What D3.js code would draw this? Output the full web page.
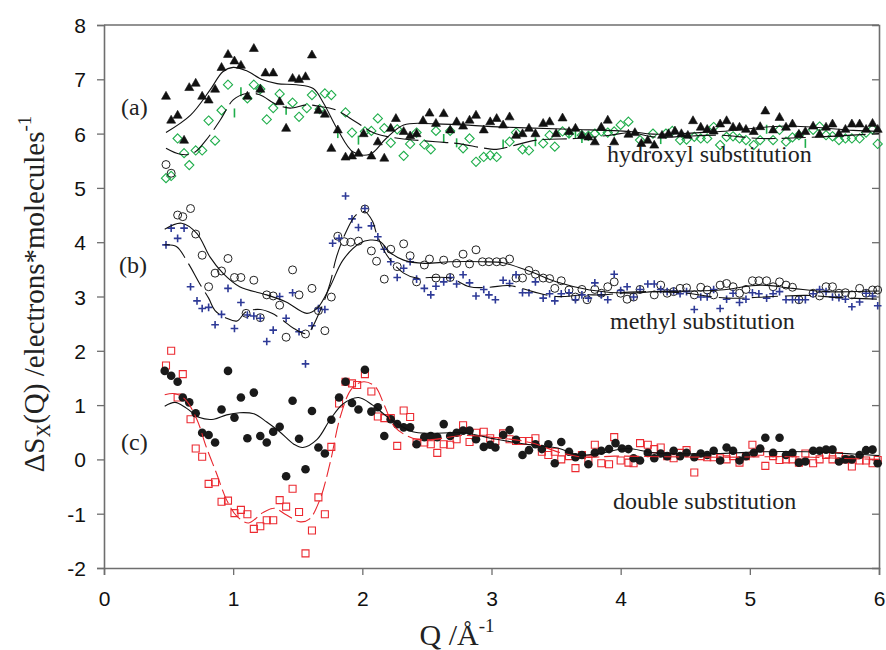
<!DOCTYPE html>
<html>
<head>
<meta charset="utf-8">
<script src="https://cdn.jsdelivr.net/npm/d3@7"></script>
<style>
  body { margin: 0; background: #fff; }
  svg { display: block; }
  .tick text { font-family: "Liberation Sans", Arial, sans-serif; font-size: 21px; fill: #111; }
  .serif { font-family: "Liberation Serif", "Times New Roman", serif; fill: #222; }
</style>
</head>
<body>
<div id="chart"></div>
<script>
const WIDTH = 886, HEIGHT = 650;

// x ticks / y ticks
const xTicks = [0, 1, 2, 3, 4, 5, 6];
const yTicks = [-2, -1, 0, 1, 2, 3, 4, 5, 6, 7, 8];

// (a) hydroxyl substitution: black triangles + solid fit
const triA = [[0.48,6.69],[0.52,6.25],[0.57,6.34],[0.62,5.88],[0.66,6.85],[0.71,6.93],[0.76,6.69],[0.81,6.62],[0.86,6.82],[0.91,7.22],[0.96,7.46],[1.01,7.34],[1.06,7.26],[1.11,6.69],[1.16,7.57],[1.21,6.82],[1.25,7.12],[1.31,7.12],[1.36,6.59],[1.41,6.10],[1.46,7.02],[1.51,7.0],[1.56,7.05],[1.61,7.45],[1.66,6.43],[1.71,6.36],[1.76,5.73],[1.81,6.07],[1.87,5.57],[1.92,5.59],[1.97,5.64],[2.01,6.0],[2.07,5.59],[2.12,5.85],[2.17,5.55],[2.22,6.10],[2.26,6.28],[2.32,6.04],[2.37,5.96],[2.42,6.0],[2.47,6.24],[2.52,6.38],[2.57,6.19],[2.63,6.37],[2.68,6.07],[2.73,6.22],[2.78,6.14],[2.83,6.25],[2.88,6.34],[2.94,6.07],[2.99,6.22],[3.04,6.28],[3.09,6.16],[3.14,6.31],[3.19,5.97],[3.24,6.0],[3.29,6.10],[3.34,6.0],[3.40,6.19],[3.45,6.22],[3.50,6.0],[3.55,6.29],[3.60,6.04],[3.65,6.10],[3.70,5.97],[3.75,5.94],[3.80,5.85],[3.85,6.12],[3.90,6.25],[3.95,5.85],[4.06,5.99],[4.11,6.02],[4.16,5.82],[4.21,5.88],[4.26,5.79],[4.32,5.97],[4.37,6.0],[4.42,6.05],[4.47,6.0],[4.52,5.97],[4.56,6.24],[4.62,6.12],[4.67,6.08],[4.72,6.05],[4.77,6.18],[4.82,6.24],[4.87,6.12],[4.92,6.12],[4.97,6.08],[5.03,6.04],[5.08,6.13],[5.12,6.42],[5.18,6.07],[5.23,6.30],[5.28,6.12],[5.33,6.18],[5.38,5.99],[5.43,6.04],[5.49,6.14],[5.54,5.99],[5.59,6.12],[5.64,6.18],[5.69,6.0],[5.74,6.08],[5.79,6.18],[5.85,6.18],[5.90,6.08],[5.95,6.19],[5.99,6.08]];
const fitTriA = [[0.48,6.02],[0.67,6.34],[0.82,6.8],[0.92,7.14],[1.0,7.22],[1.10,7.16],[1.23,6.99],[1.34,6.92],[1.49,6.9],[1.62,6.83],[1.70,6.56],[1.81,6.07],[1.93,5.66],[2.06,5.62],[2.18,5.9],[2.32,6.16],[2.57,6.18],[3.09,6.12],[3.6,6.08],[4.07,6.04],[4.25,5.99],[4.77,6.04],[5.28,6.14],[5.8,6.06],[6.0,6.04]];

// (a) green diamonds + dashed fit, green bars
const diaA = [[0.48,5.18],[0.52,5.22],[0.57,5.91],[0.62,5.64],[0.66,5.42],[0.71,5.69],[0.76,5.69],[0.81,6.24],[0.86,5.87],[0.91,6.43],[0.96,6.9],[1.11,6.65],[1.16,6.9],[1.21,6.82],[1.26,6.26],[1.31,6.47],[1.36,6.73],[1.46,6.57],[1.51,6.31],[1.57,6.47],[1.61,6.71],[1.67,6.45],[1.71,6.74],[1.76,6.71],[1.87,6.39],[1.92,6.02],[2.02,6.04],[2.07,6.05],[2.12,6.28],[2.17,6.10],[2.22,5.83],[2.27,6.08],[2.32,5.59],[2.37,5.81],[2.42,6.02],[2.48,5.80],[2.53,5.71],[2.57,6.05],[2.68,6.05],[2.78,5.73],[2.83,5.91],[2.88,5.48],[2.94,5.57],[2.99,5.60],[3.04,5.57],[3.14,5.85],[3.19,6.02],[3.24,5.71],[3.29,5.69],[3.40,5.82],[3.45,5.97],[3.49,5.76],[3.55,6.04],[3.60,6.0],[3.70,5.97],[3.75,5.96],[3.80,6.0],[3.85,6.04],[3.90,6.02],[3.95,6.04],[4.0,6.16],[4.06,6.22],[4.15,5.88],[4.25,6.0],[4.35,6.0],[4.40,6.05],[4.46,5.88],[4.51,5.89],[4.57,5.94],[4.62,5.91],[4.67,5.91],[4.72,6.12],[4.77,5.79],[4.82,5.94],[4.87,5.95],[4.92,5.91],[4.97,5.88],[5.03,5.79],[5.08,5.88],[5.18,5.88],[5.23,6.07],[5.28,5.85],[5.33,5.93],[5.38,5.97],[5.49,6.07],[5.54,6.13],[5.59,5.97],[5.64,5.95],[5.69,5.88],[5.74,5.91],[5.79,5.91],[5.85,5.91],[5.90,6.02],[5.95,6.08],[5.99,5.81]];
const barA = [[1.01,6.38],[1.06,6.77],[1.41,6.43],[1.81,6.0],[1.97,5.88],[2.63,5.91],[2.73,5.83],[3.09,5.81],[3.34,5.85],[3.60,6.0],[3.65,6.0],[3.70,5.91],[4.31,5.89],[5.13,6.08],[5.43,5.82]];
const fitDiaA = [[0.48,5.73],[0.59,5.62],[0.69,5.64],[0.79,5.88],[0.90,6.25],[1.0,6.62],[1.10,6.74],[1.2,6.72],[1.34,6.53],[1.44,6.47],[1.57,6.53],[1.67,6.5],[1.78,6.45],[1.96,6.2],[2.1,6.0],[2.29,5.91],[2.57,5.85],[2.73,5.82],[3.04,5.71],[3.14,5.76],[3.35,5.88],[3.65,5.91],[3.92,5.97],[4.08,6.02],[4.25,5.94],[4.77,5.97],[5.08,5.91],[5.54,5.94],[6.0,6.0]];

// (b) methyl substitution: open circles + solid fit, blue plus + dashed fit
const circB = [[0.48,5.43],[0.52,5.27],[0.57,4.50],[0.61,4.47],[0.67,4.62],[0.71,4.15],[0.76,3.76],[0.81,3.18],[0.86,3.43],[0.91,3.47],[0.96,3.70],[1.01,3.35],[1.06,3.35],[1.10,2.69],[1.16,3.30],[1.21,2.61],[1.26,3.03],[1.31,3.01],[1.36,2.84],[1.41,2.25],[1.46,3.49],[1.51,3.03],[1.56,2.31],[1.61,3.15],[1.66,2.74],[1.71,2.37],[1.76,2.99],[1.81,4.11],[1.86,4.01],[1.91,4.0],[1.97,4.02],[2.02,4.61],[2.07,3.84],[2.11,3.65],[2.17,3.32],[2.22,3.87],[2.27,3.55],[2.32,3.97],[2.37,3.75],[2.42,3.27],[2.48,3.58],[2.52,3.69],[2.57,3.34],[2.63,3.67],[2.68,3.35],[2.73,3.61],[2.78,3.78],[2.83,3.60],[2.88,3.86],[2.93,3.64],[2.98,3.64],[3.04,3.64],[3.09,3.64],[3.14,3.69],[3.19,3.34],[3.24,3.34],[3.29,3.48],[3.34,3.41],[3.40,3.34],[3.45,3.33],[3.49,3.15],[3.54,3.29],[3.60,3.12],[3.65,2.99],[3.70,3.13],[3.74,2.94],[3.80,3.13],[3.85,3.06],[3.90,3.18],[3.95,3.27],[4.00,3.06],[4.05,2.95],[4.10,2.99],[4.15,3.13],[4.26,3.03],[4.31,3.21],[4.36,3.06],[4.41,3.09],[4.46,3.15],[4.51,3.16],[4.57,3.03],[4.62,3.17],[4.67,3.12],[4.72,3.03],[4.77,3.21],[4.82,3.24],[4.87,3.18],[4.92,3.06],[4.97,3.13],[5.02,3.29],[5.07,3.29],[5.13,3.29],[5.18,3.18],[5.23,3.27],[5.28,3.21],[5.33,3.17],[5.38,2.94],[5.49,3.06],[5.54,3.01],[5.59,3.18],[5.64,3.18],[5.69,3.06],[5.74,3.07],[5.79,3.03],[5.85,3.15],[5.90,3.06],[5.95,3.12],[5.99,3.12]];
const fitCircB = [[0.47,4.24],[0.60,4.35],[0.72,4.16],[0.82,3.73],[0.92,3.43],[1.05,3.18],[1.26,3.03],[1.41,2.90],[1.57,2.69],[1.65,2.78],[1.75,3.18],[1.85,3.67],[1.98,3.98],[2.06,4.04],[2.14,4.01],[2.21,3.82],[2.32,3.67],[2.48,3.61],[2.68,3.64],[2.94,3.64],[3.09,3.62],[3.30,3.46],[3.50,3.27],[3.76,3.12],[4.07,3.06],[4.26,3.09],[4.77,3.12],[5.08,3.21],[5.33,3.15],[5.59,3.09],[6.0,3.1]];
const plusB = [[0.48,3.95],[0.52,4.26],[0.57,4.07],[0.62,4.26],[0.67,3.18],[0.72,2.92],[0.76,2.78],[0.81,2.80],[0.86,2.48],[0.91,2.67],[0.96,3.15],[1.01,2.41],[1.06,2.89],[1.11,2.66],[1.16,2.64],[1.21,2.60],[1.26,2.17],[1.31,2.38],[1.36,3.00],[1.41,2.60],[1.46,3.07],[1.51,2.35],[1.56,1.76],[1.61,2.46],[1.66,2.78],[1.71,2.76],[1.77,3.98],[1.82,4.07],[1.87,4.85],[1.92,4.43],[1.97,4.27],[2.02,4.62],[2.07,4.30],[2.12,4.10],[2.17,3.87],[2.22,3.64],[2.27,3.35],[2.32,3.52],[2.37,3.64],[2.42,3.32],[2.48,3.15],[2.53,3.03],[2.57,3.19],[2.63,3.27],[2.68,3.35],[2.73,3.23],[2.78,3.40],[2.83,3.25],[2.88,3.01],[2.94,3.13],[2.98,3.03],[3.03,2.94],[3.09,3.30],[3.14,3.24],[3.19,3.40],[3.24,3.07],[3.29,3.07],[3.34,3.27],[3.40,2.97],[3.45,3.05],[3.49,2.92],[3.54,3.05],[3.60,3.07],[3.65,2.94],[3.70,3.03],[3.75,2.97],[3.80,3.25],[3.85,3.03],[3.90,2.94],[3.95,3.41],[4.00,3.11],[4.05,3.18],[4.10,2.99],[4.15,3.13],[4.21,3.23],[4.26,3.23],[4.31,3.13],[4.36,3.09],[4.41,3.10],[4.46,3.05],[4.51,3.09],[4.57,2.76],[4.62,2.99],[4.67,2.99],[4.72,3.13],[4.77,2.78],[4.82,2.95],[4.87,3.06],[4.92,2.89],[4.97,2.95],[5.02,3.07],[5.07,3.05],[5.13,2.97],[5.18,3.05],[5.23,3.09],[5.28,2.94],[5.33,2.94],[5.38,2.94],[5.43,2.94],[5.49,3.05],[5.54,3.13],[5.59,3.09],[5.64,2.99],[5.69,2.98],[5.74,2.95],[5.79,2.81],[5.85,2.90],[5.90,3.06],[5.95,3.01],[5.99,2.83]];
const fitPlusB = [[0.47,3.95],[0.56,3.92],[0.65,3.62],[0.74,3.24],[0.81,2.97],[0.86,2.74],[0.95,2.60],[1.03,2.55],[1.10,2.72],[1.21,2.76],[1.30,2.69],[1.38,2.57],[1.47,2.41],[1.57,2.32],[1.67,2.72],[1.75,3.24],[1.80,3.73],[1.88,4.22],[1.95,4.50],[2.02,4.56],[2.08,4.38],[2.11,4.16],[2.19,3.76],[2.32,3.43],[2.42,3.34],[2.52,3.35],[2.68,3.34],[2.83,3.18],[2.98,3.17],[3.14,3.20],[3.32,3.09],[3.50,3.0],[3.71,3.03],[3.87,3.03],[4.07,3.08],[4.26,3.09],[4.51,3.06],[4.82,2.97],[5.18,3.0],[5.44,3.02],[5.69,2.98],[6.0,2.95]];

// (c) double substitution: filled circles + solid fit, red squares + red dashed fit
const dotC = [[0.47,1.63],[0.52,1.54],[0.57,1.43],[0.61,1.14],[0.66,1.05],[0.71,0.85],[0.76,0.49],[0.81,0.45],[0.86,0.31],[0.91,0.92],[0.96,1.63],[1.01,0.77],[1.06,1.14],[1.11,0.39],[1.16,1.23],[1.21,0.43],[1.26,0.31],[1.31,0.51],[1.36,0.60],[1.41,-0.31],[1.46,1.08],[1.51,0.38],[1.56,-0.18],[1.61,0.89],[1.66,0.22],[1.71,0.11],[1.76,0.73],[1.82,1.14],[1.87,1.43],[1.92,1.04],[1.97,0.92],[2.02,1.65],[2.07,0.88],[2.12,0.96],[2.17,0.43],[2.22,0.74],[2.27,0.65],[2.32,0.59],[2.37,0.59],[2.42,0.28],[2.48,0.41],[2.53,0.43],[2.58,0.41],[2.63,0.65],[2.68,0.43],[2.73,0.49],[2.78,0.53],[2.83,0.53],[2.88,0.37],[2.94,0.23],[2.99,0.27],[3.03,0.22],[3.09,0.45],[3.14,0.54],[3.19,0.36],[3.24,0.08],[3.29,0.17],[3.34,0.28],[3.39,0.19],[3.44,0.28],[3.49,-0.07],[3.54,0.32],[3.60,0.14],[3.65,0.04],[3.70,0.08],[3.75,-0.09],[3.80,0.12],[3.85,0.16],[3.91,0.19],[3.96,0.30],[4.01,0.20],[4.06,0.19],[4.10,0.02],[4.15,-0.02],[4.21,0.12],[4.26,0.02],[4.31,0.11],[4.36,0.06],[4.41,0.16],[4.46,0.06],[4.51,0.12],[4.57,0.04],[4.62,0.11],[4.67,0.08],[4.72,0.16],[4.77,-0.02],[4.82,0.22],[4.87,0.16],[4.92,-0.02],[4.97,0.06],[5.03,0.12],[5.08,0.20],[5.12,0.40],[5.18,0.12],[5.23,0.40],[5.28,0.08],[5.33,0.12],[5.38,-0.06],[5.43,-0.04],[5.49,0.16],[5.54,0.16],[5.59,0.18],[5.64,0.18],[5.69,-0.04],[5.74,0.0],[5.79,0.0],[5.85,0.08],[5.90,0.17],[5.95,0.18],[5.99,-0.07]];
const fitDotC = [[0.47,0.98],[0.55,1.05],[0.64,0.94],[0.74,0.77],[0.85,0.74],[0.95,0.82],[1.05,0.86],[1.16,0.84],[1.26,0.69],[1.36,0.51],[1.47,0.28],[1.54,0.22],[1.65,0.37],[1.75,0.73],[1.85,1.02],[1.97,1.14],[2.08,1.0],[2.19,0.79],[2.29,0.63],[2.39,0.51],[2.52,0.48],[2.78,0.49],[3.04,0.37],[3.30,0.27],[3.51,0.21],[3.68,0.08],[3.84,0.11],[4.05,0.20],[4.26,0.12],[4.77,0.11],[5.08,0.14],[5.44,0.14],[5.80,0.10],[6.0,0.07]];
const sqC = [[0.48,1.73],[0.52,2.0],[0.57,1.14],[0.61,1.57],[0.67,0.74],[0.71,0.20],[0.76,0.05],[0.81,-0.45],[0.86,-0.42],[0.91,-0.78],[0.96,-0.76],[1.01,-0.99],[1.06,-0.93],[1.11,-1.01],[1.16,-1.28],[1.21,-1.23],[1.26,-1.12],[1.31,-1.12],[1.36,-0.75],[1.41,-0.87],[1.46,-0.54],[1.51,-0.97],[1.56,-1.73],[1.61,-1.31],[1.66,-0.70],[1.71,-1.01],[1.76,0.23],[1.82,1.03],[1.87,1.43],[1.92,1.40],[1.96,1.37],[2.02,1.57],[2.07,1.25],[2.12,0.79],[2.17,0.76],[2.22,0.76],[2.27,0.25],[2.32,0.90],[2.37,0.78],[2.42,0.31],[2.48,0.31],[2.53,0.28],[2.58,0.12],[2.63,0.28],[2.68,0.27],[2.73,0.37],[2.78,0.63],[2.83,0.32],[2.88,0.49],[2.94,0.51],[2.99,0.39],[3.03,0.34],[3.09,0.48],[3.14,0.37],[3.19,0.34],[3.24,0.34],[3.29,0.34],[3.34,0.39],[3.39,0.14],[3.44,0.08],[3.49,0.14],[3.54,0.0],[3.60,0.06],[3.65,-0.16],[3.70,0.08],[3.75,0.0],[3.80,0.27],[3.85,-0.07],[3.91,-0.09],[3.95,0.41],[4.00,-0.02],[4.06,-0.06],[4.10,-0.07],[4.15,0.30],[4.21,0.27],[4.26,0.19],[4.31,0.22],[4.36,0.06],[4.41,0.02],[4.46,0.12],[4.51,0.17],[4.57,-0.24],[4.62,0.06],[4.67,0.04],[4.72,0.04],[4.77,0.02],[4.82,0.0],[4.87,0.06],[4.92,-0.06],[4.97,0.06],[5.02,0.27],[5.08,0.14],[5.12,-0.12],[5.18,0.06],[5.23,-0.01],[5.28,0.0],[5.33,0.0],[5.38,-0.06],[5.43,0.11],[5.49,-0.07],[5.54,0.0],[5.59,0.08],[5.64,0.0],[5.69,0.06],[5.74,0.0],[5.79,-0.13],[5.85,-0.02],[5.90,-0.02],[5.95,-0.07],[5.99,-0.01]];
const fitSqC = [[0.47,1.19],[0.55,1.21],[0.63,1.10],[0.72,0.73],[0.79,0.24],[0.87,-0.25],[0.95,-0.75],[1.03,-1.05],[1.12,-1.17],[1.23,-0.98],[1.32,-0.90],[1.41,-1.02],[1.52,-1.15],[1.59,-1.10],[1.67,-0.75],[1.75,-0.07],[1.83,0.79],[1.92,1.31],[2.01,1.43],[2.10,1.34],[2.17,1.0],[2.25,0.60],[2.39,0.39],[2.52,0.36],[2.78,0.44],[3.04,0.40],[3.30,0.31],[3.54,0.12],[3.72,0.04],[3.95,0.06],[4.3,0.05],[4.8,0.04],[5.3,0.05],[5.7,0.02],[6.0,0.0]];

// panel labels and annotations
const panelLabels = ["(a)", "(b)", "(c)"];
const panelNames = ["hydroxyl substitution", "methyl substitution", "double substitution"];

const svg = d3.select("#chart").append("svg")
  .attr("width", WIDTH)
  .attr("height", HEIGHT);

const x = d3.scaleLinear().domain([0, 6]).range([104, 879]);
const y = d3.scaleLinear().domain([-2, 8]).range([568, 25]);

const frameColor = "#6e6e6e";

// axes (hyphen minus in labels like the original)
const gx = svg.append("g")
  .attr("transform", `translate(0,${y(-2)})`)
  .call(d3.axisBottom(x).tickValues(xTicks).tickSize(7).tickPadding(16).tickFormat(d => String(d)));
const gy = svg.append("g")
  .attr("transform", `translate(${x(0)},0)`)
  .call(d3.axisLeft(y).tickValues(yTicks).tickSize(7).tickPadding(11).tickFormat(d => String(d)));
const gr = svg.append("g") // right axis, ticks inward
  .attr("transform", `translate(${x(6)},0)`)
  .call(d3.axisLeft(y).tickValues(yTicks).tickSize(7).tickFormat(""));
svg.append("line") // top frame
  .attr("x1", x(0)).attr("x2", x(6))
  .attr("y1", y(8)).attr("y2", y(8));

[gx, gy, gr].forEach(g => {
  g.select(".domain").attr("stroke", frameColor).attr("stroke-width", 1.6);
  g.selectAll(".tick line").attr("stroke", frameColor).attr("stroke-width", 1.3);
});
gr.selectAll(".tick").filter(d => d === -2 || d === 8).remove();
svg.selectAll("line").filter(function(){ return !this.closest(".tick"); })
  .attr("stroke", frameColor).attr("stroke-width", 1.6);
gy.selectAll(".tick text").attr("dy", "0.36em");

// line generator for fits
const line = d3.line()
  .x(d => x(d[0]))
  .y(d => y(d[1]))
  .curve(d3.curveCatmullRom.alpha(0.5));

const fits = [
  { data: fitTriA, color: "#111", dash: null },
  { data: fitDiaA, color: "#111", dash: "24,6" },
  { data: fitCircB, color: "#111", dash: null },
  { data: fitPlusB, color: "#111", dash: "26,7" },
  { data: fitDotC, color: "#111", dash: null },
  { data: fitSqC, color: "#e8262d", dash: "15,5" }
];

// markers
const green = "#1fae4b", blue = "#2e3a97", red = "#ec2a31";
function plotPaths(data, pathStr, fill, stroke, sw) {
  svg.append("g").selectAll("path")
    .data(data)
    .enter()
    .append("path")
    .attr("transform", d => `translate(${x(d[0])},${y(d[1])})`)
    .attr("d", pathStr)
    .attr("fill", fill)
    .attr("stroke", stroke)
    .attr("stroke-width", sw);
}

plotPaths(diaA, "M0,-4.6L4.6,0L0,4.6L-4.6,0Z", "none", green, 1.1);
plotPaths(barA, "M0,-4.5V4.5", "none", green, 1.6);
plotPaths(triA, "M0,-4.8L4.5,3.1L-4.5,3.1Z", "#111", "#111", 0.6);
plotPaths(circB, d3.symbol(d3.symbolCircle, 50)(), "none", "#222", 1.0);
plotPaths(plusB, "M-3.8,0H3.8M0,-3.8V3.8", "none", blue, 1.6);
plotPaths(sqC, "M-3.5,-3.5H3.5V3.5H-3.5Z", "none", red, 1.1);
plotPaths(dotC, d3.symbol(d3.symbolCircle, 58)(), "#1a1a1a", "none", 0);

fits.forEach(f => {
  svg.append("path")
    .datum(f.data)
    .attr("d", line)
    .attr("fill", "none")
    .attr("stroke", f.color)
    .attr("stroke-width", 1.1)
    .attr("stroke-dasharray", f.dash);
});

// panel labels
const labelPos = [[121, 115], [119, 273], [121, 450]];
svg.selectAll(".panel")
  .data(panelLabels)
  .enter()
  .append("text")
  .attr("class", "serif")
  .attr("x", (d, i) => labelPos[i][0])
  .attr("y", (d, i) => labelPos[i][1])
  .attr("font-size", 24)
  .text(d => d);

const namePos = [[607, 162], [610, 329], [613, 509]];
svg.selectAll(".name")
  .data(panelNames)
  .enter()
  .append("text")
  .attr("class", "serif")
  .attr("x", (d, i) => namePos[i][0])
  .attr("y", (d, i) => namePos[i][1])
  .attr("font-size", 24)
  .text(d => d);

// y axis title
const yt = svg.append("text")
  .attr("class", "serif")
  .attr("transform", "translate(44,294) rotate(-90)")
  .attr("text-anchor", "middle")
  .attr("font-size", 29);
yt.append("tspan").text("\u0394S");
yt.append("tspan").attr("font-size", 19).attr("dy", 6).text("X");
yt.append("tspan").attr("dy", -6).text("(Q) /electrons*molecules");
yt.append("tspan").attr("font-size", 19).attr("dy", -13).text("-1");

// x axis title
const xt = svg.append("text")
  .attr("class", "serif")
  .attr("x", 457)
  .attr("y", 645)
  .attr("text-anchor", "middle")
  .attr("font-size", 30);
xt.append("tspan").text("Q /\u00C5");
xt.append("tspan").attr("font-size", 19).attr("dy", -13).text("-1");
</script>
</body>
</html>
